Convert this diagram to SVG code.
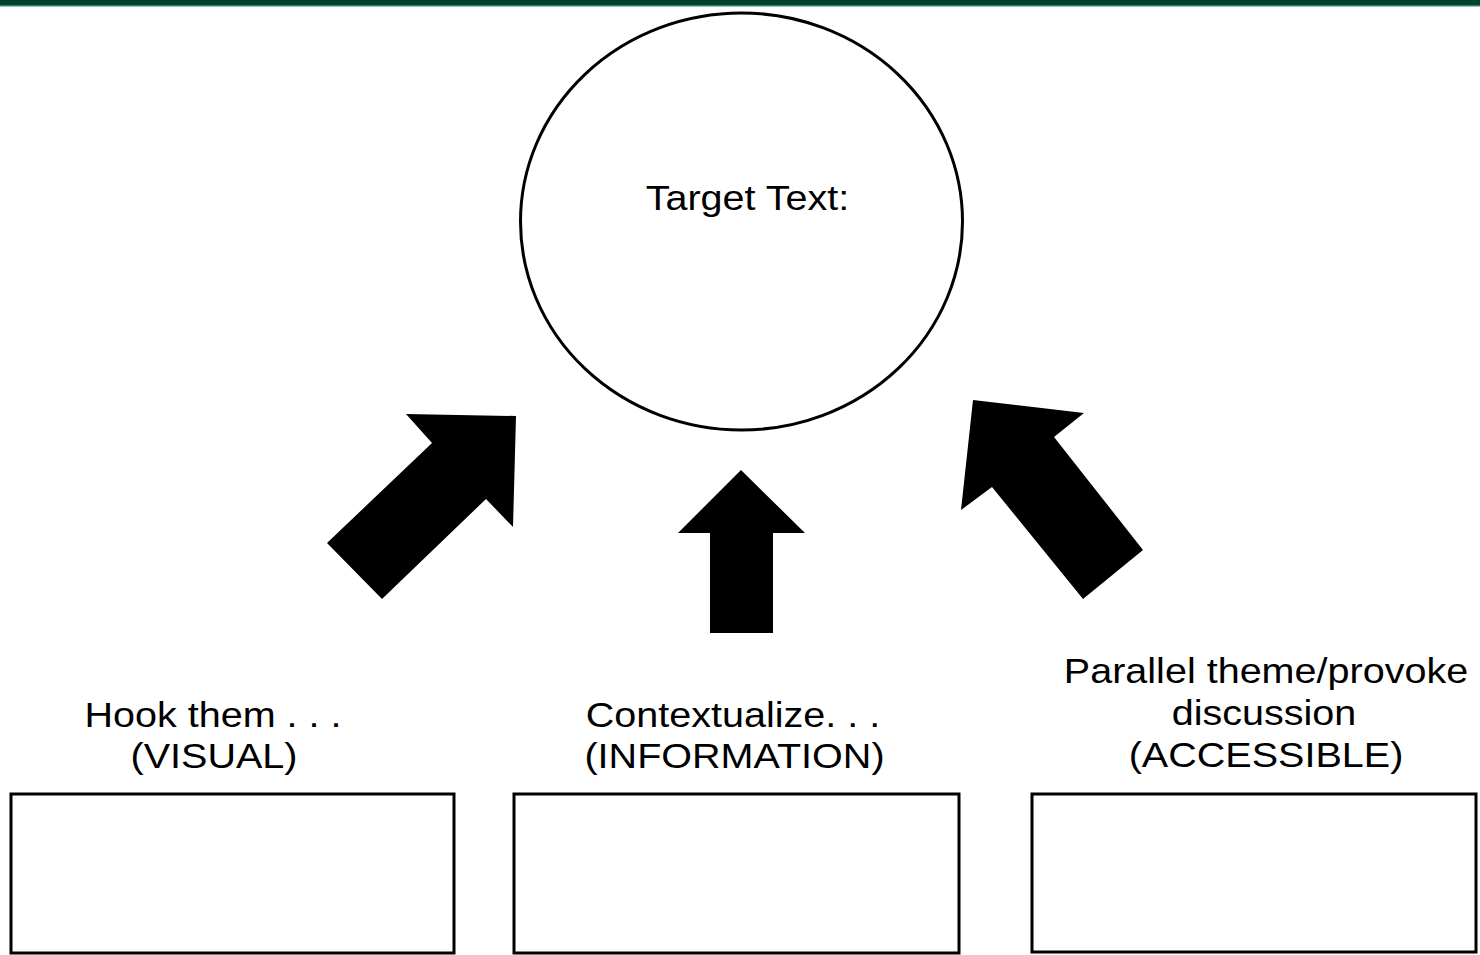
<svg xmlns="http://www.w3.org/2000/svg" width="1480" height="955" viewBox="0 0 1480 955">
<style>
.lbl{font-family:"Liberation Sans",Arial,sans-serif;font-size:35px;fill:#000;text-anchor:middle}
.box{fill:#fff;stroke:#000;stroke-width:3}
.arr{fill:#000;stroke:none}
</style>
<rect x="0" y="0" width="1480" height="955" fill="#fff"/>
<g id="topbar">
<rect x="0" y="0" width="1480" height="5" fill="#004030"/>
<rect x="0" y="5" width="1480" height="1.5" fill="#3d7f5f"/>
</g>
<g id="target">
<ellipse cx="741.5" cy="221.5" rx="221" ry="208.5" fill="#fff" stroke="#000" stroke-width="3"/>
<text class="lbl" transform="translate(747.5,210) scale(1.13,1)" x="0" y="0">Target Text:</text>
</g>
<g id="connectors">
<polygon class="arr" points="406,414 516,416 513,527 486,499 382,599 327,543 432,443"/>
<polygon class="arr" points="741,470 805,533 773,533 773,633 710,633 710,533 678,533"/>
<polygon class="arr" points="973,400 1084,413 1054,437 1143,550 1083,599 992,487 961,510"/>
</g>
<g id="hook">
<text class="lbl" transform="translate(213,727) scale(1.13,1)">Hook them . . .</text>
<text class="lbl" transform="translate(214,768) scale(1.13,1)">(VISUAL)</text>
<rect class="box" x="11" y="794" width="443" height="159"/>
</g>
<g id="contextualize">
<text class="lbl" transform="translate(733,727) scale(1.13,1)">Contextualize. . .</text>
<text class="lbl" transform="translate(734.5,768) scale(1.13,1)">(INFORMATION)</text>
<rect class="box" x="514" y="794" width="445" height="159"/>
</g>
<g id="parallel">
<text class="lbl" transform="translate(1266,683) scale(1.13,1)">Parallel theme/provoke</text>
<text class="lbl" transform="translate(1264,725) scale(1.13,1)">discussion</text>
<text class="lbl" transform="translate(1266,767) scale(1.13,1)">(ACCESSIBLE)</text>
<rect class="box" x="1032" y="794" width="444" height="158"/>
</g>
</svg>
